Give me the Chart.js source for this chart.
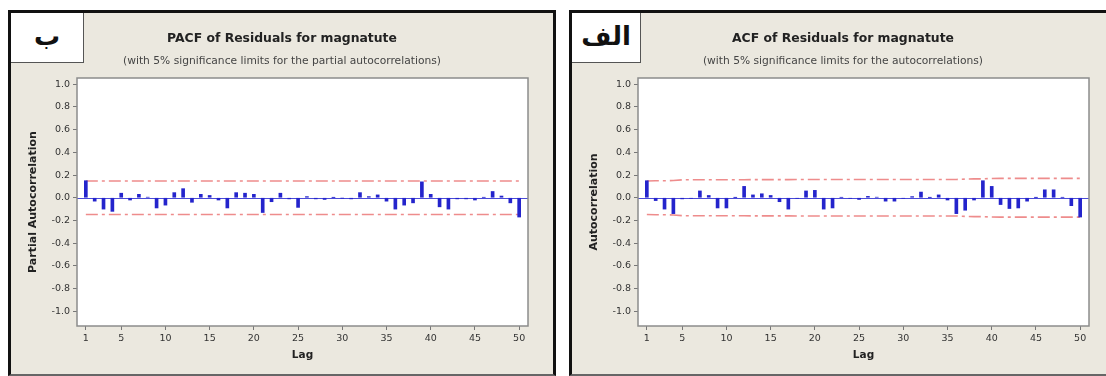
<!DOCTYPE html>
<html>
<head>
<meta charset="utf-8">
<script src="https://cdn.jsdelivr.net/npm/chart.js@4/dist/chart.umd.min.js"></script>
<style>
  body { margin: 0; width: 1106px; height: 376px; background: #fff; position: relative; overflow: hidden; font-family: "DejaVu Sans", sans-serif; }
  .panel { position: absolute; top: 10px; width: 542px; height: 361px; background: #ebe8df; border: 3px solid #111; border-bottom: 2px solid #666; }
  .box { position: absolute; left: 0; top: 0; width: 72px; height: 49px; background: #fff; border-right: 1px solid #555; border-bottom: 1px solid #555; text-align: center; font-weight: bold; font-size: 26px; line-height: 46px; color: #111; }
  .title { position: absolute; left: 0; width: 100%; text-align: center; color: #222; }
  .t1 { top: 18px; font-weight: bold; font-size: 12.4px; line-height: 14px; }
  .t2 { top: 42px; font-size: 10.7px; line-height: 12px; color: #444; }
  .wrap { position: absolute; left: 0; top: 0; width: 542px; height: 361px; }
</style>
</head>
<body>
<div class="panel" style="left:8px">
  <div class="wrap"><canvas id="pacfChart"></canvas></div>
  <div class="box">ب</div>
  <div class="title t1">PACF of Residuals for magnatute</div>
  <div class="title t2">(with 5% significance limits for the partial autocorrelations)</div>
</div>
<div class="panel" style="left:569px">
  <div class="wrap"><canvas id="acfChart"></canvas></div>
  <div class="box" style="width:68px">الف</div>
  <div class="title t1">ACF of Residuals for magnatute</div>
  <div class="title t2">(with 5% significance limits for the autocorrelations)</div>
</div>
<script>
// lags and values
const lags = [1, 2, 3, 4, 5, 6, 7, 8, 9, 10, 11, 12, 13, 14, 15, 16, 17, 18, 19, 20,
  21, 22, 23, 24, 25, 26, 27, 28, 29, 30, 31, 32, 33, 34, 35, 36, 37, 38, 39, 40,
  41, 42, 43, 44, 45, 46, 47, 48, 49, 50];

const pacfValues = [0.15, -0.03, -0.10, -0.12, 0.04, -0.02, 0.03, 0.005, -0.09, -0.065,
  0.045, 0.08, -0.04, 0.03, 0.02, -0.02, -0.09, 0.045, 0.04, 0.03,
  -0.13, -0.035, 0.04, -0.01, -0.085, 0.01, -0.01, -0.015, 0.002, -0.003,
  -0.01, 0.045, 0.01, 0.025, -0.03, -0.10, -0.065, -0.045, 0.14, 0.03,
  -0.08, -0.10, -0.01, -0.01, -0.02, 0.003, 0.055, 0.015, -0.045, -0.17];

const acfValues = [0.15, -0.025, -0.10, -0.14, -0.01, -0.005, 0.06, 0.02, -0.09, -0.09,
  0.002, 0.10, 0.025, 0.035, 0.02, -0.035, -0.10, -0.005, 0.06, 0.065,
  -0.10, -0.09, 0.003, -0.005, -0.015, 0.012, 0.005, -0.03, -0.03, -0.005,
  0.01, 0.05, 0.002, 0.025, -0.02, -0.14, -0.11, -0.02, 0.15, 0.10,
  -0.06, -0.095, -0.09, -0.03, 0.002, 0.07, 0.07, 0.003, -0.07, -0.17];

const pacfLimit = 0.148;
const acfLimits = [0.148, 0.150, 0.150, 0.152, 0.158, 0.158, 0.158, 0.158, 0.158, 0.158,
  0.158, 0.158, 0.160, 0.160, 0.160, 0.160, 0.160, 0.161, 0.161, 0.161,
  0.161, 0.161, 0.161, 0.161, 0.161, 0.161, 0.161, 0.161, 0.161, 0.161,
  0.161, 0.161, 0.161, 0.161, 0.161, 0.161, 0.164, 0.166, 0.166, 0.170,
  0.171, 0.171, 0.171, 0.171, 0.171, 0.171, 0.171, 0.171, 0.171, 0.171];

const xTicks = [1, 5, 10, 15, 20, 25, 30, 35, 40, 45, 50];
const yTicks = [-1.0, -0.8, -0.6, -0.4, -0.2, 0.0, 0.2, 0.4, 0.6, 0.8, 1.0];

const barColor = '#2424cc';
const limitColor = '#ee8c8c';
const limitDash = [12, 4, 3, 4];

// white plot background, blue zero line, grey frame
const framePlugin = {
  id: 'frame',
  beforeDraw(chart) {
    const { ctx, chartArea: a } = chart;
    ctx.save();
    ctx.fillStyle = '#fff';
    ctx.fillRect(a.left, a.top, a.right - a.left, a.bottom - a.top);
    ctx.restore();
  },
  beforeDatasetsDraw(chart) {
    const { ctx, chartArea: a, scales: { y } } = chart;
    const y0 = Math.round(y.getPixelForValue(0)) + 0.5;
    ctx.save();
    ctx.strokeStyle = '#4a4ad8';
    ctx.lineWidth = 1;
    ctx.beginPath();
    ctx.moveTo(a.left, y0);
    ctx.lineTo(a.right, y0);
    ctx.stroke();
    ctx.restore();
  },
  afterDatasetsDraw(chart) {
    const { ctx, chartArea: a } = chart;
    ctx.save();
    ctx.strokeStyle = '#8c8c8c';
    ctx.lineWidth = 1.5;
    ctx.strokeRect(a.left, a.top, a.right - a.left, a.bottom - a.top);
    ctx.restore();
  }
};

function makeChart(id, values, upper, yTitle) {
  const bars = lags.map((l, i) => ({ x: l, y: values[i] }));
  const up = lags.map((l, i) => ({ x: l, y: upper[i] }));
  const low = lags.map((l, i) => ({ x: l, y: -upper[i] }));
  const limitDs = data => ({
    type: 'line', data: data, borderColor: limitColor, borderWidth: 1.6,
    borderDash: limitDash, pointRadius: 0, fill: false
  });

  return new Chart(document.getElementById(id), {
    type: 'bar',
    data: {
      datasets: [
        { data: bars, backgroundColor: barColor, barThickness: 3, borderWidth: 0 },
        limitDs(up),
        limitDs(low)
      ]
    },
    plugins: [framePlugin],
    options: {
      responsive: true,
      maintainAspectRatio: false,
      animation: false,
      layout: { padding: { top: 65, right: 25, left: 0, bottom: 0 } },
      plugins: { legend: { display: false }, tooltip: { enabled: false } },
      scales: {
        x: {
          type: 'linear', min: 0, max: 51, offset: false,
          afterBuildTicks: s => { s.ticks = xTicks.map(v => ({ value: v })); },
          afterFit: s => { s.height = 48; },
          grid: { drawOnChartArea: false, offset: false, tickLength: 4, color: '#777' },
          border: { display: false },
          ticks: { autoSkip: false, maxRotation: 0, padding: 3, color: '#333', font: { family: 'DejaVu Sans', size: 9.5 } },
          title: { display: true, text: 'Lag', color: '#222', padding: { top: 0, bottom: 12 }, font: { family: 'DejaVu Sans', size: 10.5, weight: 'bold' } }
        },
        y: {
          min: -1.13, max: 1.055,
          afterBuildTicks: s => { s.ticks = yTicks.map(v => ({ value: v })); },
          afterFit: s => { s.width = 66; },
          grid: { drawOnChartArea: false, tickLength: 4, color: '#777' },
          border: { display: false },
          ticks: { padding: 3, color: '#333', font: { family: 'DejaVu Sans', size: 9.5 }, callback: v => v.toFixed(1) },
          title: { display: true, text: yTitle, color: '#222', padding: { top: 16, bottom: 0 }, font: { family: 'DejaVu Sans', size: 11, weight: 'bold' } }
        }
      }
    }
  });
}

makeChart('pacfChart', pacfValues, lags.map(() => pacfLimit), 'Partial Autocorrelation');
makeChart('acfChart', acfValues, acfLimits, 'Autocorrelation');
</script>
</body>
</html>
